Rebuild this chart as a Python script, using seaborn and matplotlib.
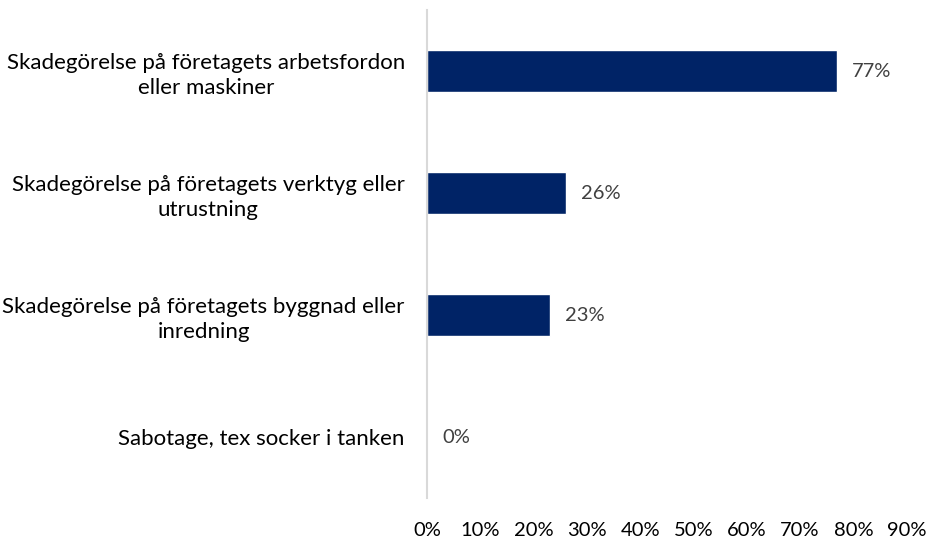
import seaborn as sns
import matplotlib.pyplot as plt
import pandas as pd
from matplotlib.ticker import PercentFormatter

# Data
categories = [
    "Skadegörelse på företagets arbetsfordon\neller maskiner",
    "Skadegörelse på företagets verktyg eller\nutrustning",
    "Skadegörelse på företagets byggnad eller\ninredning",
    "Sabotage, tex socker i tanken",
]
values = [77, 26, 23, 0]

df = pd.DataFrame({"Kategori": categories, "Andel": values})

sns.set_style("white")
plt.rcParams["font.family"] = ["Lato", "DejaVu Sans"]

fig = plt.figure(figsize=(9.29, 5.39), dpi=100)
ax = fig.add_axes([0.4597, 0.076, 0.5163, 0.905])

sns.barplot(data=df, x="Andel", y="Kategori", orient="h",
            color="#002366", width=0.344, saturation=1, ax=ax)

for i, v in enumerate(values):
    ax.text(v + 2.8, i, f"{v}%", va="center", ha="left",
            fontsize=14.5, color="#404040")

ax.set_xlim(0, 90)
ax.set_ylim(3.5, -0.5)
ax.set_xticks(range(0, 91, 10))
ax.xaxis.set_major_formatter(PercentFormatter(decimals=0))
ax.set_xlabel("")
ax.set_ylabel("")
ax.tick_params(axis="x", length=0, pad=17, labelsize=14.5, labelcolor="black")
ax.tick_params(axis="y", length=0, pad=16, labelsize=16, labelcolor="black")
for lbl in ax.get_yticklabels():
    lbl.set_multialignment("center")
    lbl.set_linespacing(1.3)

for s in ["top", "right", "bottom"]:
    ax.spines[s].set_visible(False)
ax.spines["left"].set_color("#d9d9d9")
ax.spines["left"].set_linewidth(1.5)

fig.savefig("out.png", dpi=100)
